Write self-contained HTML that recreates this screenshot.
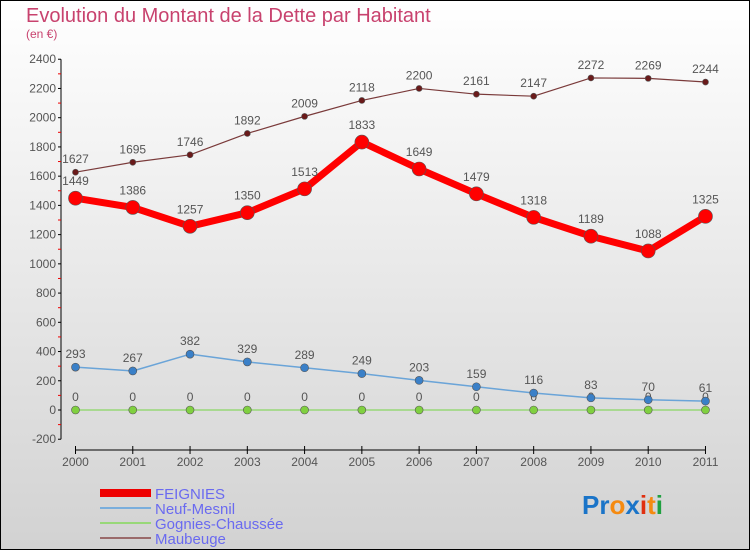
<!DOCTYPE html>
<html><head><meta charset="utf-8"><style>
body{margin:0;}
svg{display:block;font-family:"Liberation Sans",sans-serif;}
</style></head><body>
<svg id="c" width="750" height="550" xmlns="http://www.w3.org/2000/svg">
<defs><linearGradient id="bg" x1="0" y1="0" x2="0" y2="1"><stop offset="0" stop-color="#ffffff"/><stop offset="1" stop-color="#d2d2d2"/></linearGradient></defs>
<rect x="0.5" y="0.5" width="749" height="549" fill="url(#bg)" stroke="#000"/>
<text x="26" y="22" font-size="20" fill="#c8426e">Evolution du Montant de la Dette par Habitant</text>
<text x="26" y="38" font-size="12" fill="#c8426e">(en €)</text>
<g id="axes"></g><g id="series"></g>
<g>
<rect x="100" y="489" width="51" height="8" fill="#e00"/>
<text x="155" y="499" font-size="15" fill="#6a6af0">FEIGNIES</text>
<rect x="100" y="507" width="51" height="2" fill="#7aaedc"/>
<text x="155" y="514" font-size="15" fill="#6a6af0">Neuf-Mesnil</text>
<rect x="100" y="522" width="51" height="2" fill="#98d878"/>
<text x="155" y="529" font-size="15" fill="#6a6af0">Gognies-Chaussée</text>
<rect x="100" y="537" width="51" height="2" fill="#9a6a6a"/>
<text x="155" y="544" font-size="15" fill="#6a6af0">Maubeuge</text>
</g>
<g font-size="26" font-weight="bold">
<text x="582" y="514"><tspan fill="#1a74c8">Pr</tspan><tspan fill="#f58a10">o</tspan><tspan fill="#1a74c8">x</tspan><tspan fill="#e03010">i</tspan><tspan fill="#f58a10">t</tspan><tspan fill="#20a040">i</tspan></text>
</g>
</svg>
<script>
const years=[2000,2001,2002,2003,2004,2005,2006,2007,2008,2009,2010,2011];
const feignies=[1449,1386,1257,1350,1513,1833,1649,1479,1318,1189,1088,1325];
const neufMesnil=[293,267,382,329,289,249,203,159,116,83,70,61];
const gognies=[0,0,0,0,0,0,0,0,0,0,0,0];
const maubeuge=[1627,1695,1746,1892,2009,2118,2200,2161,2147,2272,2269,2244];
const yTicks=[-200,0,200,400,600,800,1000,1200,1400,1600,1800,2000,2200,2400];
const NS="http://www.w3.org/2000/svg";
const xs=i=>75.5+i*57.27;
const ys=v=>410-v*(380/2600);
function mk(t,a,p){const e=document.createElementNS(NS,t);for(const k in a)e.setAttribute(k,a[k]);p.appendChild(e);return e;}
const ax=document.getElementById('axes');
const yl=mk('line',{x1:61,y1:ys(2400),x2:61,y2:ys(-200),stroke:'#000'},ax);


yTicks.forEach(v=>{
 mk('line',{x1:58,y1:ys(v),x2:61,y2:ys(v),stroke:'#000'},ax);
 if(v<2400) mk('line',{x1:58,y1:ys(v+100),x2:61,y2:ys(v+100),stroke:'#e00'},ax);
 const t=mk('text',{x:56,y:ys(v)+4,'font-size':12,'text-anchor':'end',fill:'#555'},ax);
 t.textContent=v;
 
 
});
const xl=mk('line',{x1:75.5,y1:450,x2:xs(11),y2:450,stroke:'#000'},ax);


years.forEach((y,i)=>{
 mk('line',{x1:xs(i),y1:446,x2:xs(i),y2:454,stroke:'#000'},ax);
 const t=mk('text',{x:xs(i),y:466,'font-size':12,'text-anchor':'middle',fill:'#555'},ax);
 t.textContent=y;
 
 
});
const sg=document.getElementById('series');
function series(name,data,color,w,r,dot,lab){
 const g=mk('g',{},sg);
 
 
 const p=mk('polyline',{points:data.map((v,i)=>xs(i)+','+ys(v)).join(' '),fill:'none',stroke:color,'stroke-width':w,'stroke-linejoin':'round'},g);
 
 
 data.forEach((v,i)=>{
  const c=mk('circle',{cx:xs(i),cy:ys(v),r:r,fill:dot,stroke:'#555','stroke-width':0.6},g);
  
  
  const t=mk('text',{x:xs(i),y:ys(v)-lab,'font-size':12,'text-anchor':'middle',fill:'#555'},g);
  t.textContent=v;
  
  
 });
}
series('gognies',gognies,'#98d878',1.5,4,'#80d040',9);
series('neuf-mesnil',neufMesnil,'#6aa4d8',1.5,4,'#3a80c8',9);
series('maubeuge',maubeuge,'#7a3a3a',1.2,3,'#6a1a1a',9);
series('feignies',feignies,'#f00',7,7,'#f00',13);
</script>
</body></html>
